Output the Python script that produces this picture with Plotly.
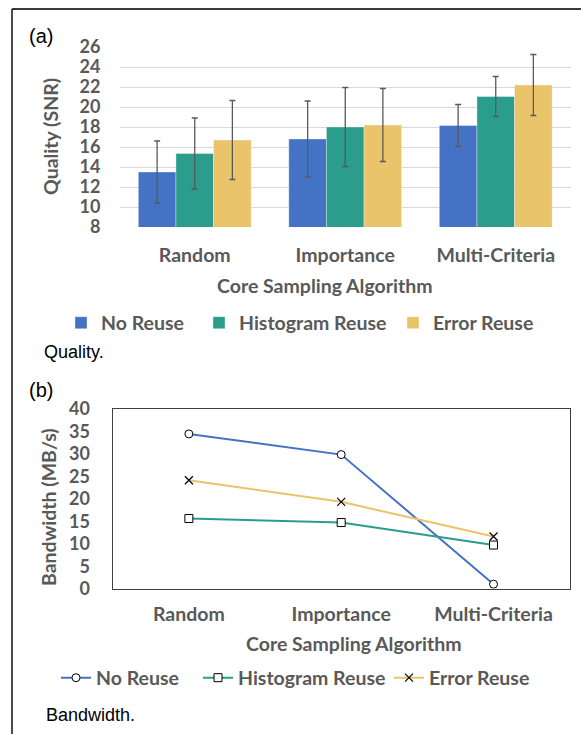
import plotly.graph_objects as go

# ---------------- data ----------------
categories = ["Random", "Importance", "Multi-Criteria"]
series_names = ["No Reuse", "Histogram Reuse", "Error Reuse"]

quality_no_reuse = [13.5, 16.8, 18.15]
quality_hist_reuse = [15.35, 18.0, 21.05]
quality_err_reuse = [16.7, 18.2, 22.2]
quality_no_reuse_err = [3.1, 3.8, 2.1]
quality_hist_reuse_err = [3.55, 3.95, 2.0]
quality_err_reuse_err = [3.95, 3.65, 3.05]

bandwidth_no_reuse = [34.4, 29.8, 1.0]
bandwidth_hist_reuse = [15.6, 14.7, 9.7]
bandwidth_err_reuse = [24.1, 19.3, 11.6]

quality_ticks = [8, 10, 12, 14, 16, 18, 20, 22, 24, 26]
bandwidth_ticks = [0, 5, 10, 15, 20, 25, 30, 35, 40]

colors = ["#4472C4", "#2A9D8C", "#E9C46A"]
markers = ["circle", "square", "x-thin-open"]

W, H = 581, 734
GRAY = "#595959"
FONT = "Lato"


def px(x):
    return x / W


def py(y):
    return 1 - y / H


fig = go.Figure()

# legend ids: one per entry so each entry sits where the reference puts it
bar_legends = ["legend", "legend2", "legend3"]
line_legends = ["legend4", "legend5", "legend6"]
bar_legend_x = [61, 199, 393]
line_legend_x = [56, 198, 389]

q_vals = [quality_no_reuse, quality_hist_reuse, quality_err_reuse]
q_errs = [quality_no_reuse_err, quality_hist_reuse_err, quality_err_reuse_err]
for name, vals, errs, c, lg in zip(series_names, q_vals, q_errs, colors, bar_legends):
    fig.add_trace(go.Bar(
        x=categories, y=vals, name=name,
        marker=dict(color=c, line=dict(color="rgba(255,255,255,0.35)", width=1)),
        error_y=dict(type="data", array=errs, visible=True, color=GRAY,
                     thickness=1.3, width=3),
        xaxis="x", yaxis="y", legend=lg,
    ))

b_vals = [bandwidth_no_reuse, bandwidth_hist_reuse, bandwidth_err_reuse]
for name, vals, c, m, lg in zip(series_names, b_vals, colors, markers, line_legends):
    if m == "x-thin-open":
        mk = dict(symbol=m, size=8, color="black", line=dict(color="black", width=1.2))
    else:
        mk = dict(symbol=m, size=8, color="white", line=dict(color="black", width=1))
    fig.add_trace(go.Scatter(
        x=categories, y=vals, name=name, mode="lines+markers",
        line=dict(color=c, width=2), marker=mk,
        xaxis="x2", yaxis="y2", legend=lg,
    ))

ytickfont = dict(family=FONT, size=18, color=GRAY, weight="bold")
xtickfont = dict(family=FONT, size=19.5, color=GRAY, weight="bold")
legfont = dict(family=FONT, size=19.5, color=GRAY, weight="bold")

legends = {}
for lg, x in zip(bar_legends, bar_legend_x):
    legends[lg] = dict(orientation="h", x=px(x), y=py(323), xanchor="left",
                       yanchor="middle", font=legfont, bgcolor="rgba(0,0,0,0)",
                       borderwidth=0, itemclick=False)
for lg, x in zip(line_legends, line_legend_x):
    legends[lg] = dict(orientation="h", x=px(x), y=py(678), xanchor="left",
                       yanchor="middle", font=legfont, bgcolor="rgba(0,0,0,0)",
                       borderwidth=0, itemclick=False)

fig.update_layout(
    template="none",
    width=W, height=H, autosize=False,
    margin=dict(l=0, r=0, t=0, b=0, pad=0),
    paper_bgcolor="white", plot_bgcolor="white",
    barmode="group", bargap=0.25, bargroupgap=0,
    xaxis=dict(domain=[px(119.5), px(571)], anchor="y", showgrid=False,
               showline=False, zeroline=False, ticks="", tickfont=xtickfont,
               ticklabelstandoff=14, automargin=False),
    yaxis=dict(domain=[py(227), py(47)], anchor="x", range=[8, 26],
               tickvals=quality_ticks, showgrid=True, gridcolor="#D9D9D9",
               gridwidth=1, zeroline=False, showline=False, ticks="",
               tickfont=ytickfont, ticklabelstandoff=18, automargin=False),
    xaxis2=dict(domain=[px(112.7), px(569.7)], anchor="y2", showgrid=False,
                range=[-0.5, 2.5],
                showline=True, mirror=True, linecolor="#404040", linewidth=1.3,
                zeroline=False, ticks="", tickfont=xtickfont,
                ticklabelstandoff=8, automargin=False),
    yaxis2=dict(domain=[py(588.7), py(408.7)], anchor="x2", range=[0, 40],
                tickvals=bandwidth_ticks, showgrid=False, zeroline=False,
                showline=True, mirror=True, linecolor="#404040", linewidth=1.3,
                ticks="", tickfont=ytickfont, ticklabelstandoff=18,
                automargin=False),
    showlegend=True,
    **legends,
)

titlefont = dict(family=FONT, size=19.5, color=GRAY, weight="bold")
capfont = dict(family="Liberation Sans", size=18, color="black")
labfont = dict(family="Liberation Sans", size=20, color="black")

annots = [
    dict(text="(a)", x=px(27), y=py(36), xanchor="left", yanchor="middle", font=labfont),
    dict(text="(b)", x=px(27), y=py(390), xanchor="left", yanchor="middle", font=labfont),
    dict(text="Quality (SNR)", x=px(50), y=py(137), textangle=-90, xanchor="center",
         yanchor="middle", font=titlefont),
    dict(text="Bandwidth (MB/s)", x=px(48), y=py(507), textangle=-90, xanchor="center",
         yanchor="middle", font=titlefont),
    dict(text="Core Sampling Algorithm", x=px(325), y=py(285), xanchor="center",
         yanchor="middle", font=titlefont),
    dict(text="Core Sampling Algorithm", x=px(354), y=py(643), xanchor="center",
         yanchor="middle", font=titlefont),
    dict(text="Quality.", x=px(42), y=py(352), xanchor="left", yanchor="middle", font=capfont),
    dict(text="Bandwidth.", x=px(44), y=py(715), xanchor="left", yanchor="middle", font=capfont),
]
for a in annots:
    fig.add_annotation(xref="paper", yref="paper", showarrow=False, **a)

# outer frame (top and left edges)
fig.add_shape(type="line", xref="paper", yref="paper", x0=px(12), x1=1, y0=py(9), y1=py(9),
              line=dict(color="#3a3a3a", width=2))
fig.add_shape(type="line", xref="paper", yref="paper", x0=px(12), x1=px(12), y0=py(9), y1=0,
              line=dict(color="#111111", width=1.5))

fig.write_html(
    "out.html",
    config={"displayModeBar": False, "responsive": False},
    post_script=(
        "document.body.style.margin='0';document.body.style.padding='0';"
        "document.body.style.overflow='hidden';"
        "document.documentElement.style.overflow='hidden';"
    ),
)
